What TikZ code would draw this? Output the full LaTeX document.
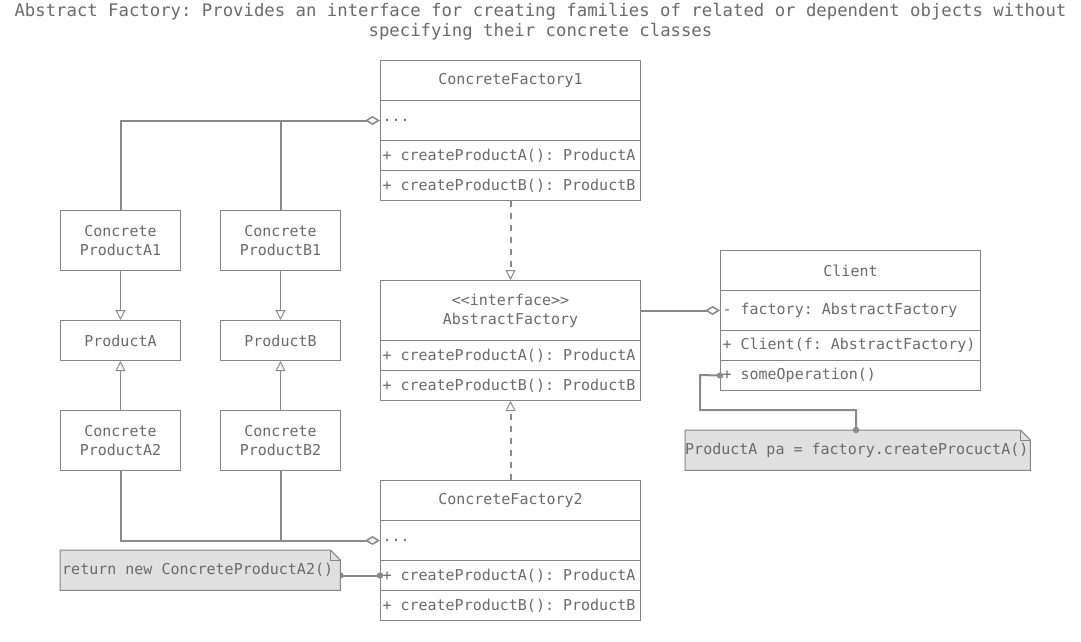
\documentclass[tikz,border=0pt]{standalone}
\usepackage{fontspec}
\newfontfamily\mono{DejaVu Sans Mono}[Ligatures=NoCommon, WordSpace={1,0,0}]
\usetikzlibrary{arrows.meta}
\pgfdeclarelayer{background}
\pgfsetlayers{background,main}
\definecolor{lc}{HTML}{8A8A8A}
\definecolor{bc}{HTML}{858585}
\definecolor{tc}{HTML}{6A6A6A}
\definecolor{nf}{HTML}{E0E0E0}
\newcommand\lrow[1]{\makebox[256pt][l]{#1}}
\frenchspacing
\begin{document}
\frenchspacing
\begin{tikzpicture}[x=1pt,y=-1pt,
  comp/.style={draw=bc, line width=1pt, anchor=north west, minimum width=260pt, inner sep=0pt, text=tc, font=\mono\fontsize{15}{19}\selectfont\frenchspacing},
  hdr/.style={comp, align=center, text width=260pt},
  rowbox/.style={comp, inner xsep=2pt},
  prod/.style={draw=bc, line width=1pt, anchor=north west, minimum width=120pt, inner sep=0pt, align=center, text width=120pt, text=tc, font=\mono\fontsize{15}{19}\selectfont},
  notebox/.style={anchor=north west, inner sep=0pt, text=tc, font=\mono\fontsize{15}{19}\selectfont\frenchspacing},
  agg/.style={draw=lc, line width=2pt, -{Diamond[open, fill=white, length=15pt, width=9pt, line width=1.5pt]}},
  aggline/.style={draw=lc, line width=2pt},
  gen/.style={draw=lc, line width=1pt, -{Triangle[open, fill=white, length=10pt, width=10pt, line width=1pt]}},
  realize/.style={draw=lc, line width=2pt, dash pattern=on 6pt off 6pt, -{Triangle[open, fill=white, length=10pt, width=10pt, line width=1pt]}},
  link/.style={draw=lc, line width=2pt},
  dotc/.style={fill=lc},
  notefill/.style={fill=nf, draw=bc, line width=1pt}
]
\useasboundingbox (0,0) rectangle (1081,641);

% title
\node[text=tc, align=center, font=\mono\fontsize{17.3}{20}\selectfont\frenchspacing] (title) at (540.5,22)
  {Abstract Factory: Provides an interface for creating families of related or dependent objects without\\specifying their concrete classes};

% ConcreteFactory1
\node[hdr, minimum height=40pt] (cf1h) at (380,60) {ConcreteFactory1};
\node[rowbox, minimum height=40pt] (cf1a) at (380,100) {\lrow{...}};
\node[rowbox, minimum height=30pt] (cf1m1) at (380,140) {\lrow{+ createProductA(): ProductA}};
\node[rowbox, minimum height=30pt] (cf1m2) at (380,170) {\lrow{+ createProductB(): ProductB}};

% AbstractFactory
\node[hdr, minimum height=60pt] (afh) at (380,280) {<{}<interface>{}>\\AbstractFactory};
\node[rowbox, minimum height=30pt] (afm1) at (380,340) {\lrow{+ createProductA(): ProductA}};
\node[rowbox, minimum height=30pt] (afm2) at (380,370) {\lrow{+ createProductB(): ProductB}};

% ConcreteFactory2
\node[hdr, minimum height=40pt] (cf2h) at (380,480) {ConcreteFactory2};
\node[rowbox, minimum height=40pt] (cf2a) at (380,520) {\lrow{...}};
\node[rowbox, minimum height=30pt] (cf2m1) at (380,560) {\lrow{+ createProductA(): ProductA}};
\node[rowbox, minimum height=30pt] (cf2m2) at (380,590) {\lrow{+ createProductB(): ProductB}};

% Client
\node[hdr, minimum height=40pt] (clh) at (720,250) {Client};
\node[rowbox, minimum height=40pt] (cla) at (720,290) {\lrow{- factory: AbstractFactory}};
\node[rowbox, minimum height=30pt] (clm1) at (720,330) {\lrow{+ Client(f: AbstractFactory)}};
\node[rowbox, minimum height=30pt] (clm2) at (720,360) {\lrow{+ someOperation()}};

% Products
\node[prod, minimum height=60pt] (cpa1) at (60,210) {Concrete\\ProductA1};
\node[prod, minimum height=60pt] (cpb1) at (220,210) {Concrete\\ProductB1};
\node[prod, minimum height=40pt] (pa) at (60,320) {ProductA};
\node[prod, minimum height=40pt] (pb) at (220,320) {ProductB};
\node[prod, minimum height=60pt] (cpa2) at (60,410) {Concrete\\ProductA2};
\node[prod, minimum height=60pt] (cpb2) at (220,410) {Concrete\\ProductB2};

% Notes
\node[notebox, minimum height=40pt] (n1) at (685,430) {\makebox[345pt][l]{ProductA pa = factory.createProcuctA()}};
\node[notebox, minimum height=40pt] (n2) at (60,550) {\makebox[280pt][l]{\hspace{2pt}return new ConcreteProductA2()}};

\begin{pgfonlayer}{background}
  % note2 connector (behind note)
  \draw[link] (n2.east |- cf2m1.west) -- (cf2m1.west);
  \fill[dotc] (n2.east |- cf2m1.west) circle (3.2pt);
  \foreach \n in {n1,n2}{
    \path[notefill] (\n.north west) -- ([xshift=-10pt]\n.north east) -- ([yshift=-10pt]\n.north east)
      -- (\n.south east) -- (\n.south west) -- cycle;
    \draw[draw=bc, line width=0.8pt] ([xshift=-10pt]\n.north east) -- ([xshift=-10pt,yshift=-10pt]\n.north east) -- ([yshift=-10pt]\n.north east);
  }
\end{pgfonlayer}
\fill[dotc] (cf2m1.west) circle (3.2pt);

% aggregation to ConcreteFactory1
\draw[agg] (cpa1.north) |- (cf1a.west);
\draw[aggline] (cpb1.north) -- (cpb1.north |- cf1a.west);

% aggregation to ConcreteFactory2
\draw[agg] (cpa2.south) |- (cf2a.west);
\draw[aggline] (cpb2.south) -- (cpb2.south |- cf2a.west);

% generalizations
\draw[gen] (cpa1.south) -- (pa.north);
\draw[gen] (cpb1.south) -- (pb.north);
\draw[gen] (cpa2.north) -- (pa.south);
\draw[gen] (cpb2.north) -- (pb.south);

% realizations
\draw[realize] (cf1m2.south) -- (afh.north);
\draw[realize] (cf2h.north) -- (afm2.south);

% Client aggregation
\draw[agg] (afh.east) -- (cla.west);

% Client note connector
\coordinate (k1) at (700,375);
\coordinate (k2) at (856,410);
\draw[link] (clm2.west) -- (k1) |- (k2) -- (k2 |- n1.north);
\fill[dotc] (clm2.west) circle (3.2pt);
\fill[dotc] (k2 |- n1.north) circle (3.2pt);
\end{tikzpicture}
\end{document}
